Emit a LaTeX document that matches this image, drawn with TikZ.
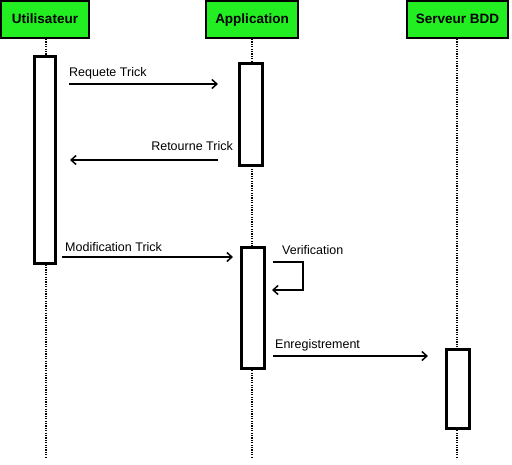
\documentclass[tikz,border=0pt]{standalone}
\usepackage{fontspec}
\setmainfont{Liberation Sans}
\usepackage{tikz}
\usepackage{xcolor}
\usetikzlibrary{arrows.meta}
\definecolor{actorgreen}{RGB}{34,238,34}
\tikzset{
    actor-box/.style = {draw=black, fill=actorgreen, line width=2pt, rectangle, minimum height=37pt, inner sep=0pt, text height=10pt, text depth=2.5pt, font=\bfseries\fontsize{13.5}{15}\selectfont},
    activation-box/.style = {draw=black, fill=white, line width=3pt, rectangle, inner sep=0pt},
    life-line/.style = {line width=1.2pt, dash pattern=on 1.2pt off 1.2pt},
    message/.style = {line width=1.5pt, -{Straight Barb[length=5pt,width=9pt,line width=1.5pt]}},
    message-label/.style = {font=\fontsize{12.5}{14}\selectfont, inner sep=0pt},
}

\begin{document}
\begin{tikzpicture}[x=1pt, y=-1pt]
\useasboundingbox (0,0) rectangle (512,464);
% acteurs
\node [actor-box, minimum width=88pt] (user) at (45,19.5) {Utilisateur};
\node [actor-box, minimum width=92pt] (app) at (252,19.5) {Application};
\node [actor-box, minimum width=101pt] (db) at (457.5,19.5) {Serveur BDD};
% lignes de vie
\coordinate (user-end) at (46,458);
\coordinate (app-end) at (252,458);
\coordinate (db-end) at (457,458);
\draw [life-line] (user.south -| user-end) -- (user-end);
\draw [life-line] (app.south) -- (app-end);
\draw [life-line] (db.south -| db-end) -- (db-end);
% activations
\node [activation-box, minimum width=21pt, minimum height=207pt] (user-act) at (45,160) {};
\node [activation-box, minimum width=23pt, minimum height=102pt] (app-act1) at (251,114.5) {};
\node [activation-box, minimum width=23pt, minimum height=121pt] (app-act2) at (253,308) {};
\node [activation-box, minimum width=23pt, minimum height=79pt] (db-act) at (458,389) {};
% messages
\coordinate (req-start) at (69,84);
\coordinate (req-end) at (218,84);
\draw [message] (req-start) -- (req-end);
\node [message-label, anchor=base west] (req-label) at (69,76) {Requete Trick};

\coordinate (ret-start) at (218,160);
\coordinate (ret-end) at (70,160);
\draw [message] (ret-start) -- (ret-end);
\node [message-label, anchor=base east] (ret-label) at (233,150) {Retourne Trick};

\coordinate (mod-start) at (62,257);
\coordinate (mod-end) at (233,257);
\draw [message] (mod-start) -- (mod-end);
\node [message-label, anchor=base west] (mod-label) at (65,251) {Modification Trick};

\coordinate (ver-start) at (273,262);
\coordinate (ver-end) at (272,290);
\draw [message] (ver-start) -- (303,262) -- (303,290) -- (ver-end);
\node [message-label, anchor=base west] (ver-label) at (282,254) {Verification};

\coordinate (enr-start) at (273,356);
\coordinate (enr-end) at (428,356);
\draw [message] (enr-start) -- (enr-end);
\node [message-label, anchor=base west] (enr-label) at (275,348) {Enregistrement};
\end{tikzpicture}
\end{document}
